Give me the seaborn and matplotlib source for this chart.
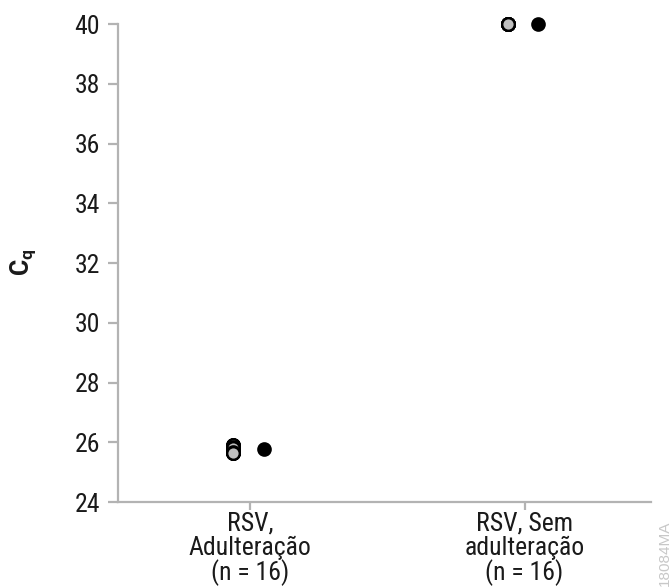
import numpy as np
import pandas as pd
import matplotlib
matplotlib.use("Agg")
import matplotlib.pyplot as plt
import seaborn as sns

# Sample groups and tick labels
categories = ["RSV,\nAdulteração\n(n = 16)", "RSV, Sem\nadulteração\n(n = 16)"]

# Individual replicate Cq values per group (n = 16 each)
replicates_adulterated = [25.92, 25.92, 25.92, 25.91, 25.83, 25.82, 25.82, 25.81,
                          25.82, 25.66, 25.65, 25.65, 25.65, 25.64, 25.65, 25.65]
replicates_clean = [40.0] * 16

# Group means
mean_values = [25.77, 40.0]

yticks = [24, 26, 28, 30, 32, 34, 36, 38, 40]

sns.set_theme(style="white")
fonts = ["Roboto Condensed", "Liberation Sans Narrow", "DejaVu Sans Condensed",
         "Roboto", "DejaVu Sans"]
plt.rcParams["font.family"] = fonts

rows = []
for i, vals in enumerate([replicates_adulterated, replicates_clean]):
    for v in vals:
        rows.append({"group": i, "pos": i - 0.06, "cq": v, "kind": "replicate"})
for i, v in enumerate(mean_values):
    rows.append({"group": i, "pos": i + 0.05, "cq": v, "kind": "mean"})
df = pd.DataFrame(rows)

fig = plt.figure(figsize=(6.71, 5.87), dpi=100)
ax = fig.add_axes([0.1759, 0.1448, 0.7941, 0.8143])

sns.scatterplot(data=df[df.kind == "replicate"], x="pos", y="cq", ax=ax,
                color="#c0c0c0", edgecolor="black", linewidth=1.6, s=80,
                clip_on=False, zorder=3, legend=False)
sns.scatterplot(data=df[df.kind == "mean"], x="pos", y="cq", ax=ax,
                color="black", edgecolor="black", linewidth=1.6, s=80,
                clip_on=False, zorder=3, legend=False)

ax.set_xlim(-0.48, 1.46)
ax.set_ylim(24, 40)
ax.set_yticks(yticks)
ax.set_yticklabels([str(t) for t in yticks])
ax.set_xticks(range(len(categories)))
ax.set_xticklabels(categories, linespacing=0.98)

spine_color = "#b3b3b3"
for side in ["top", "right"]:
    ax.spines[side].set_visible(False)
for side in ["left", "bottom"]:
    ax.spines[side].set_color(spine_color)
    ax.spines[side].set_linewidth(1.6)

ax.tick_params(axis="y", which="major", direction="out", length=7, width=1.6,
               color=spine_color, labelsize=18.5, labelcolor="#1a1a1a", pad=6, left=True)
ax.tick_params(axis="x", which="major", direction="out", length=6, width=1.6,
               color=spine_color, labelsize=18.5, labelcolor="#1a1a1a", pad=1, bottom=True)

ax.set_xlabel("")
ax.set_ylabel("")
fig.text(0.034, 0.553, r"C$_\mathregular{q}$", rotation=90, fontsize=18,
         fontweight="bold", family=["Roboto", "DejaVu Sans"], ha="center", va="center",
         color="#1a1a1a")

fig.text(0.991, 0.058, "18084MA", rotation=90, fontsize=11, color="#c8c8c8",
         family=["Liberation Sans", "DejaVu Sans"], ha="center", va="center")

fig.savefig("out.png", dpi=100, facecolor="white")
